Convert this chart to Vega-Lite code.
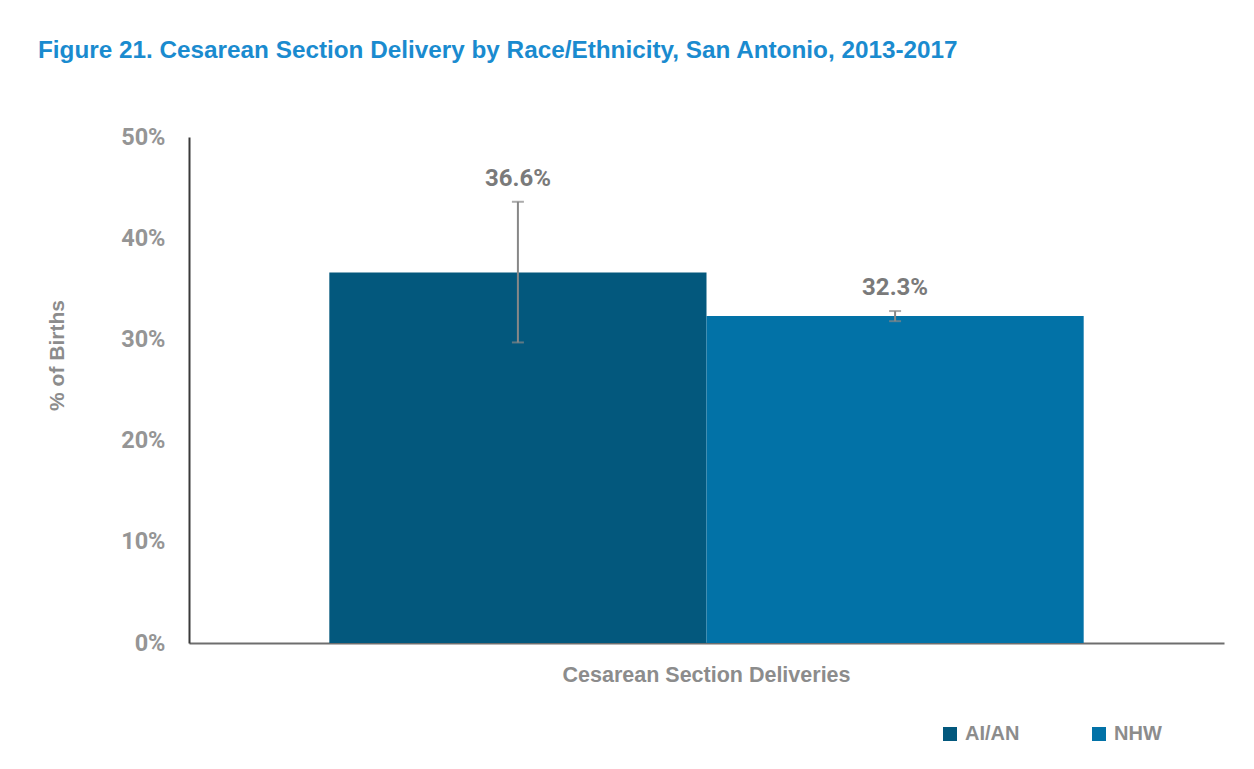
{
  "$schema": "https://vega.github.io/schema/vega-lite/v6.json",
  "width": 1035,
  "height": 506,
  "autosize": {"type": "none"},
  "padding": {"left": 189, "top": 137, "right": 30, "bottom": 126},
  "background": "white",
  "title": {
    "text": "Figure 21. Cesarean Section Delivery by Race/Ethnicity, San Antonio, 2013-2017",
    "anchor": "start",
    "frame": "group",
    "dx": -151,
    "offset": 62,
    "font": "Liberation Sans",
    "fontSize": 24.3,
    "fontWeight": "bold",
    "color": "#1a8bcf"
  },
  "data": {
    "values": [
      {"category": "Cesarean Section Deliveries", "group": "AI/AN", "value": 36.6, "lower": 29.7, "upper": 43.6, "label": "36.6%"},
      {"category": "Cesarean Section Deliveries", "group": "NHW", "value": 32.3, "lower": 31.8, "upper": 32.8, "label": "32.3%"}
    ]
  },
  "config": {
    "view": {"stroke": null}
  },
  "encoding": {
    "x": {
      "field": "category",
      "type": "nominal",
      "scale": {"paddingOuter": 0.186, "paddingInner": 0},
      "axis": {
        "title": null,
        "labelAngle": 0,
        "ticks": false,
        "labelLimit": 0,
        "labelPadding": 21,
        "labelFont": "Liberation Sans",
        "labelFontSize": 21.5,
        "labelFontWeight": "bold",
        "labelColor": "#8c8c8c",
        "domainColor": "#6e6e6e",
        "domainWidth": 2
      }
    },
    "xOffset": {"field": "group", "type": "nominal", "scale": {"paddingInner": 0, "paddingOuter": 0}}
  },
  "layer": [
    {
      "mark": {"type": "bar"},
      "encoding": {
        "y": {
          "field": "value",
          "type": "quantitative",
          "scale": {"domain": [0, 50]},
          "axis": {
            "values": [0, 10, 20, 30, 40, 50],
            "labelExpr": "datum.value + '%'",
            "grid": false,
            "ticks": false,
            "labelPadding": 24,
            "labelFont": "Roboto",
            "labelFontSize": 23.5,
            "labelFontWeight": "bold",
            "labelColor": "#959595",
            "domainColor": "#3a3a3a",
            "domainWidth": 2,
            "title": "% of Births",
            "titleFont": "Liberation Sans",
            "titleFontSize": 21,
            "titleFontWeight": "bold",
            "titleColor": "#8c8c8c",
            "titleX": -122,
            "titleY": 218,
            "titleAngle": -90,
            "titleAlign": "center",
            "titleBaseline": "bottom"
          }
        },
        "color": {
          "field": "group",
          "type": "nominal",
          "scale": {"domain": ["AI/AN", "NHW"], "range": ["#03587d", "#0272a7"]},
          "legend": {
            "title": null,
            "orient": "none",
            "direction": "horizontal",
            "legendX": 751,
            "legendY": 587,
            "symbolType": "square",
            "symbolSize": 196,
            "symbolStrokeWidth": 0,
            "labelFont": "Liberation Sans",
            "labelFontSize": 20,
            "labelFontWeight": "bold",
            "labelColor": "#8c8c8c",
            "labelOffset": 5,
            "columnPadding": 69
          }
        }
      }
    },
    {
      "mark": {"type": "rule", "color": "#878787", "strokeWidth": 2},
      "encoding": {
        "y": {"field": "lower", "type": "quantitative"},
        "y2": {"field": "upper"}
      }
    },
    {
      "mark": {"type": "tick", "color": "#878787", "thickness": 2, "size": 12},
      "encoding": {"y": {"field": "lower", "type": "quantitative"}}
    },
    {
      "mark": {"type": "tick", "color": "#878787", "thickness": 2, "size": 12},
      "encoding": {"y": {"field": "upper", "type": "quantitative"}}
    },
    {
      "mark": {"type": "text", "baseline": "bottom", "dy": -11, "font": "Roboto", "fontSize": 24, "fontWeight": "bold", "color": "#7a7a7a"},
      "encoding": {
        "y": {"field": "upper", "type": "quantitative"},
        "text": {"field": "label"}
      }
    }
  ]
}
